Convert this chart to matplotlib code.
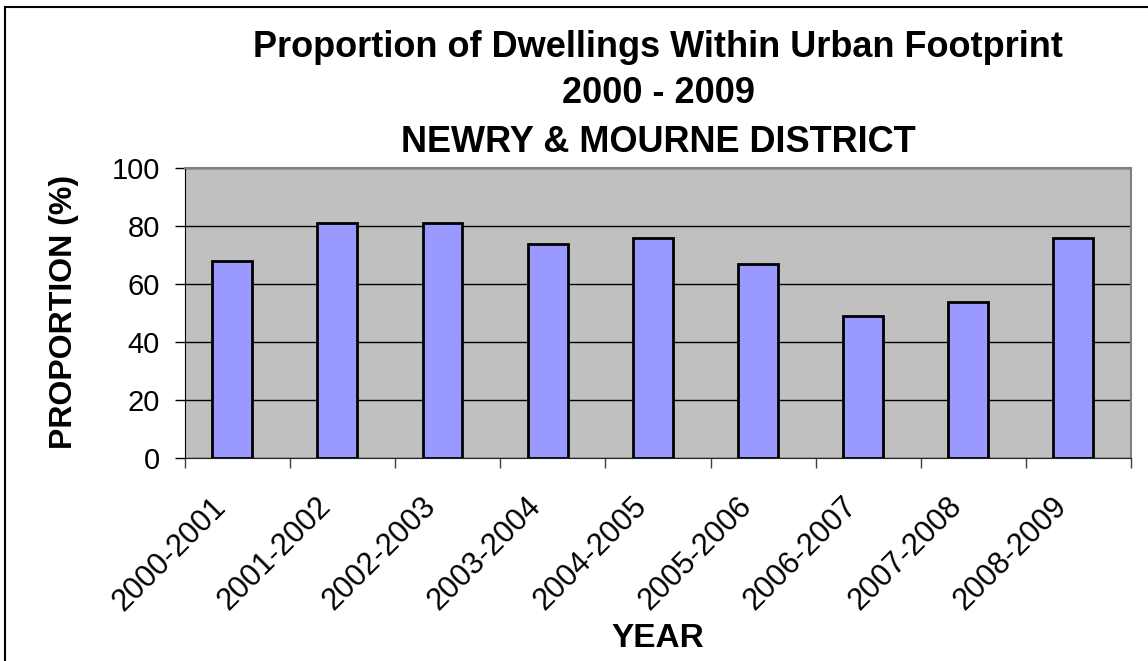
import matplotlib
matplotlib.use('Agg')
import matplotlib.pyplot as plt
import matplotlib.transforms as mtransforms
from matplotlib.lines import Line2D
import numpy as np

years = ['2000-2001', '2001-2002', '2002-2003', '2003-2004', '2004-2005',
         '2005-2006', '2006-2007', '2007-2008', '2008-2009']
proportion = [68, 81, 81, 74, 76, 67, 49, 54, 76]
title_lines = ['Proportion of Dwellings Within Urban Footprint',
               '2000 - 2009',
               'NEWRY & MOURNE DISTRICT']

plt.rcParams['font.family'] = ['Liberation Sans', 'DejaVu Sans']

W, H = 1148, 661
fig = plt.figure(figsize=(W / 100, H / 100), dpi=100)
ax = fig.add_axes([185 / W, 1 - 458.3 / H, 946 / W, 290 / H])
ax.set_facecolor('#c0c0c0')

x = np.arange(len(years))
ax.bar(x - 0.05, proportion, width=0.38, color='#9999ff',
       edgecolor='black', linewidth=2, zorder=3)

ax.set_xlim(-0.5, len(years) - 0.5)
ax.set_ylim(0, 100)
ax.set_yticks(range(0, 101, 20))
ax.yaxis.grid(True, color='black', linewidth=1)
ax.set_axisbelow(True)

ax.set_xticks(x)
ax.set_xticklabels(years, rotation=45, ha='right', va='top', fontsize=22)
ax.set_xticks(np.arange(len(years) + 1) - 0.5, minor=True)
ax.tick_params(axis='x', which='major', length=0, pad=24)
ax.tick_params(axis='x', which='minor', length=7, color='#404040', width=1)
ax.tick_params(axis='y', length=7, width=1, labelsize=21, pad=11)

# shift the rotated labels a little to the left, as in the original
offset = mtransforms.ScaledTranslation(-5.5 / 100, 0, fig.dpi_scale_trans)
for lab in ax.get_xticklabels():
    lab.set_transform(lab.get_transform() + offset)

for side in ['top', 'right']:
    ax.spines[side].set_color('#808080')
    ax.spines[side].set_linewidth(1.5)
ax.spines['left'].set_color('black')
ax.spines['bottom'].set_color('#202020')

cx = (185 + 1131) / 2 / W
for txt, base in zip(title_lines, [56.7, 103.3, 151.7]):
    fig.text(cx, 1 - base / H, txt, ha='center', va='baseline',
             fontsize=26, fontweight='bold')

fig.text(cx, 1 - 647 / H, 'YEAR', ha='center', va='baseline',
         fontsize=24, fontweight='bold')
fig.text(72 / W, 1 - 311.5 / H, 'PROPORTION (%)', rotation=90,
         rotation_mode='anchor', ha='center', va='baseline',
         fontsize=23, fontweight='bold')

# outer frame (only top and left edges are visible)
fig.add_artist(Line2D([5 / W, 5 / W], [0, 1 - 7 / H], color='black', lw=1.5))
fig.add_artist(Line2D([5 / W, 1], [1 - 7 / H, 1 - 7 / H], color='black', lw=1.5))

fig.savefig('out.png', dpi=100)
